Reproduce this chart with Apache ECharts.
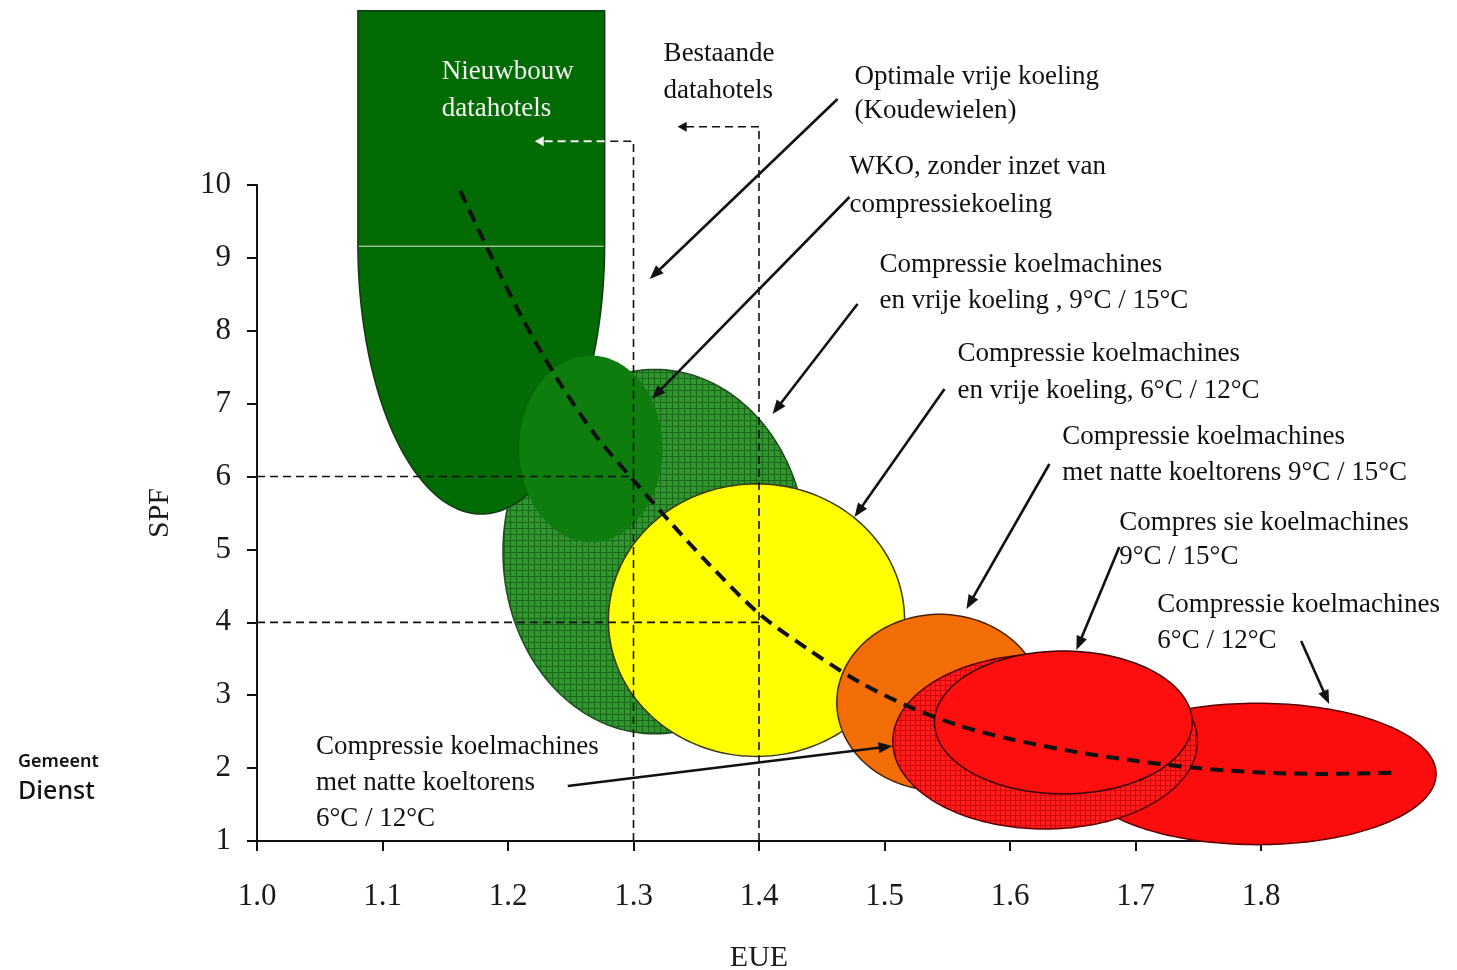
<!DOCTYPE html>
<html><head><meta charset="utf-8">
<script src="https://cdn.jsdelivr.net/npm/echarts@6/dist/echarts.min.js"></script>
<style>html,body{margin:0;padding:0;background:#fff}#c{width:1457px;height:970px}</style>
</head><body><div id="c"></div>
<script>
// ---------- DATA ----------
const xTicks = [1.0, 1.1, 1.2, 1.3, 1.4, 1.5, 1.6, 1.7, 1.8];
const yTicks = [1, 2, 3, 4, 5, 6, 7, 8, 9, 10];

// dashed trend curve (EUE, SPF)
const curveEUE = [1.162, 1.18, 1.21, 1.24, 1.27, 1.30, 1.33, 1.36, 1.40, 1.44, 1.48, 1.52, 1.56, 1.60, 1.65, 1.70, 1.75, 1.80, 1.85, 1.908];
const curveSPF = [9.92, 9.26, 8.22, 7.32, 6.56, 5.95, 5.36, 4.80, 4.12, 3.62, 3.18, 2.84, 2.58, 2.40, 2.23, 2.10, 2.00, 1.94, 1.92, 1.94];

// elliptical regions (centre EUE / SPF, half-width EUE / half-height SPF)
const regionNames = ['CK + vrije koeling 9/15', 'WKO', 'CK + vrije koeling 6/12', 'CK natte koeltorens 9/15', 'CK 6/12', 'CK natte koeltorens 6/12', 'CK 9/15'];
const regionEUE = [1.317, 1.266, 1.398, 1.544, 1.797, 1.628, 1.6425];
const regionSPF = [4.97, 6.38, 4.03, 2.90, 1.92, 2.365, 2.626];
const regionHalfEUE = [0.121, 0.057, 0.118, 0.082, 0.1425, 0.1214, 0.1027];
const regionHalfSPF = [2.50, 1.28, 1.87, 1.21, 0.97, 1.20, 0.98];

// "Nieuwbouw datahotels" region: EUE left/right, SPF top / start of rounding / bottom
const newBuildEUE = [1.0804, 1.277];
const newBuildSPF = [12.39, 9.19, 5.486];

// dashed guide lines
const guideEUE = [1.3, 1.4];
const guideSPF = [6, 4];
const guideTopSPF = [10.60, 10.80];
const guideTipEUE = [1.2213, 1.3352];

// annotation arrows
const arrowFromEUE = [1.4626, 1.4721, 1.4785, 1.5478, 1.6314, 1.6871, 1.832, 1.2476];
const arrowFromSPF = [11.18, 9.835, 8.367, 7.201, 6.172, 5.033, 3.744, 1.755];
const arrowToEUE = [1.3129, 1.3145, 1.4108, 1.4761, 1.5653, 1.6529, 1.8543, 1.5064];
const arrowToSPF = [8.71, 7.064, 6.858, 5.445, 4.183, 3.62, 2.88, 2.303];

// annotation texts
const noteText = [
  'Nieuwbouw\ndatahotels',
  'Bestaande\ndatahotels',
  'Optimale vrije koeling\n(Koudewielen)',
  'WKO, zonder inzet van\ncompressiekoeling',
  'Compressie koelmachines\nen vrije koeling , 9°C / 15°C',
  'Compressie koelmachines\nen vrije koeling, 6°C / 12°C',
  'Compressie koelmachines\nmet natte koeltorens 9°C / 15°C',
  'Compres sie koelmachines\n9°C / 15°C',
  'Compressie koelmachines\n6°C / 12°C',
  'Compressie koelmachines\nmet natte koeltorens\n6°C / 12°C'
];
const noteEUE = [1.1473, 1.324, 1.4761, 1.4721, 1.496, 1.5581, 1.6417, 1.6871, 1.7174, 1.047];
const noteSPF = [11.296, 11.543, 11.248, 9.986, 8.655, 7.428, 6.296, 5.13, 3.991, 1.796];

// ---------- STYLES ----------
const SERIF = '"Liberation Serif", "Times New Roman", serif';
function hatch(bg, line, step) {
  const c = document.createElement('canvas');
  c.width = step; c.height = step;
  const g = c.getContext('2d');
  g.fillStyle = bg; g.fillRect(0, 0, step, step);
  g.fillStyle = line; g.fillRect(0, 0, step, 1); g.fillRect(0, 0, 1, step);
  return { image: c, repeat: 'repeat' };
}
const regionLook = {
  'CK + vrije koeling 9/15': { fill: hatch('#2f962f', '#186818', 6), stroke: '#1f4a1f', lw: 1.5 },
  'WKO': { fill: '#0e7d0e', stroke: null, lw: 0 },
  'CK + vrije koeling 6/12': { fill: '#ffff00', stroke: '#3a3a1a', lw: 1.5 },
  'CK natte koeltorens 9/15': { fill: '#f36d06', stroke: '#4a2000', lw: 1.5 },
  'CK 6/12': { fill: '#fc0d0d', stroke: '#5a0000', lw: 1.5 },
  'CK natte koeltorens 6/12': { fill: hatch('#ff1c1c', '#d00808', 5), stroke: '#5a0000', lw: 1.5 },
  'CK 9/15': { fill: '#fd0f0f', stroke: '#3a0000', lw: 1.5 }
};
const noteColor = ['#f4f4f4', '#111', '#111', '#111', '#111', '#111', '#111', '#111', '#111', '#111'];
const noteLH = [37, 37, 34, 38, 36, 37, 36, 34, 36, 36];

function ellipsePoly(api, cx, cy, rx, ry, from, to, n) {
  const c = api.coord([cx, cy]);
  const e = api.coord([cx + rx, cy + ry]);
  const a = e[0] - c[0], b = c[1] - e[1];
  const pts = [];
  for (let k = 0; k <= n; k++) {
    const t = from + (to - from) * k / n;
    pts.push([c[0] + a * Math.cos(t), c[1] + b * Math.sin(t)]);
  }
  return pts;
}
function arrowEls(p0, p1, color, len, half, width, dash) {
  const dx = p1[0] - p0[0], dy = p1[1] - p0[1];
  const L = Math.hypot(dx, dy), ux = dx / L, uy = dy / L;
  const bx = p1[0] - ux * len, by = p1[1] - uy * len;
  return [
    { type: 'line', shape: { x1: p0[0], y1: p0[1], x2: bx + ux * 2, y2: by + uy * 2 },
      style: { stroke: color, lineWidth: width, lineDash: dash || null } },
    { type: 'polygon', shape: { points: [[p1[0], p1[1]], [bx - uy * half, by + ux * half], [bx + uy * half, by - ux * half]] },
      style: { fill: color } }
  ];
}

const chart = echarts.init(document.getElementById('c'));
const option = {
  animation: false,
  backgroundColor: '#fff',
  grid: { left: 257, right: 196, top: 185, bottom: 129, containLabel: false, outerBoundsMode: 'none' },
  xAxis: {
    type: 'value', min: 1.0, max: 1.8, interval: 0.1,
    name: 'EUE', nameLocation: 'middle', nameGap: 102,
    nameTextStyle: { fontFamily: SERIF, fontSize: 30, color: '#1a1a1a' },
    axisLine: { lineStyle: { color: '#111', width: 2 } },
    axisTick: { show: true, length: 10, customValues: xTicks, lineStyle: { color: '#111', width: 2 } },
    axisLabel: { customValues: xTicks, formatter: v => v.toFixed(1), margin: 40, fontFamily: SERIF, fontSize: 31, color: '#1a1a1a' },
    splitLine: { show: false }
  },
  yAxis: {
    type: 'value', min: 1, max: 10, interval: 1,
    name: 'SPF', nameLocation: 'middle', nameGap: 82, nameRotate: 90,
    nameTextStyle: { fontFamily: SERIF, fontSize: 30, color: '#1a1a1a' },
    axisLine: { lineStyle: { color: '#111', width: 2 } },
    axisTick: { show: true, length: 10, customValues: yTicks, lineStyle: { color: '#111', width: 2 } },
    axisLabel: { customValues: yTicks, margin: 26, fontFamily: SERIF, fontSize: 31, color: '#1a1a1a', padding: [4, 0, 0, 0] },
    splitLine: { show: false }
  },
  graphic: [
    { type: 'text', left: 18, top: 753, z: 100, style: { text: 'Gemeente', fontFamily: '"Noto Sans", sans-serif', fontWeight: 600, fontSize: 18, fill: '#111' } },
    { type: 'text', left: 18, top: 779, z: 100, style: { text: 'Dienst', fontFamily: '"Noto Sans", sans-serif', fontWeight: 500, fontSize: 25, fill: '#111' } },
    { type: 'rect', left: 99, top: 745, z: 101, shape: { width: 40, height: 75 }, style: { fill: '#fff' } }
  ],
  series: [
    {
      type: 'custom', name: 'regions', coordinateSystem: 'cartesian2d', clip: false, z: 2, silent: true,
      data: regionNames.map((n, i) => [regionEUE[i], regionSPF[i], regionHalfEUE[i], regionHalfSPF[i]]),
      encode: { x: 0, y: 1 },
      renderItem: (params, api) => {
        const i = params.dataIndex;
        const look = regionLook[regionNames[i]];
        return {
          type: 'polygon', z2: i * 10,
          shape: { points: ellipsePoly(api, regionEUE[i], regionSPF[i], regionHalfEUE[i], regionHalfSPF[i], 0, Math.PI * 2, 180) },
          style: { fill: look.fill, stroke: look.stroke, lineWidth: look.lw }
        };
      }
    },
    {
      type: 'custom', name: 'Nieuwbouw', coordinateSystem: 'cartesian2d', clip: false, z: 2, silent: true,
      data: [[(newBuildEUE[0] + newBuildEUE[1]) / 2, newBuildSPF[1]]],
      encode: { x: 0, y: 1 },
      renderItem: (params, api) => {
        const cx = (newBuildEUE[0] + newBuildEUE[1]) / 2, rx = (newBuildEUE[1] - newBuildEUE[0]) / 2;
        const ry = newBuildSPF[1] - newBuildSPF[2];
        const tl = api.coord([newBuildEUE[0], newBuildSPF[0]]);
        const tr = api.coord([newBuildEUE[1], newBuildSPF[0]]);
        const arc = ellipsePoly(api, cx, newBuildSPF[1], rx, ry, 0, Math.PI, 120);
        const seamL = api.coord([newBuildEUE[0], newBuildSPF[1] - 0.03]);
        const seamR = api.coord([newBuildEUE[1], newBuildSPF[1] - 0.03]);
        return {
          type: 'group', children: [
            { type: 'polygon', z2: 5, shape: { points: [tl, tr].concat(arc) }, style: { fill: '#036b03', stroke: '#143814', lineWidth: 1.5 } },
            { type: 'line', z2: 6, shape: { x1: seamL[0] + 1, y1: seamL[1], x2: seamR[0] - 1, y2: seamR[1] }, style: { stroke: 'rgba(255,255,255,0.85)', lineWidth: 1 } }
          ]
        };
      }
    },
    {
      type: 'custom', name: 'trend', coordinateSystem: 'cartesian2d', clip: false, z: 5, silent: true,
      data: curveEUE.map((x, i) => [x, curveSPF[i]]),
      encode: { x: 0, y: 1 },
      renderItem: (params, api) => {
        if (params.dataIndex !== 0) return null;
        const pts = curveEUE.map((x, i) => api.coord([x, curveSPF[i]]));
        return {
          type: 'polyline', shape: { points: pts, smooth: 0.3 },
          style: { stroke: '#111', lineWidth: 4, lineDash: [13, 8], fill: null }
        };
      }
    },
    {
      type: 'custom', name: 'guides', coordinateSystem: 'cartesian2d', clip: false, z: 6, silent: true,
      data: guideEUE.map((x, i) => [x, guideSPF[i]]),
      encode: { x: 0, y: 1 },
      renderItem: (params, api) => {
        const i = params.dataIndex;
        const dash = [8, 5];
        const st = { stroke: '#111', lineWidth: 1.6, lineDash: dash, fill: null };
        const h0 = api.coord([1.0, guideSPF[i]]), h1 = api.coord([guideEUE[i], guideSPF[i]]);
        const v0 = api.coord([guideEUE[i], 1]), v1 = api.coord([guideEUE[i], guideTopSPF[i]]);
        const kids = [
          { type: 'polyline', shape: { points: [h0, h1] }, style: st },
        ];
        if (i === 0) {
          const edge = api.coord([newBuildEUE[1], guideTopSPF[i]]);
          kids.push({ type: 'polyline', shape: { points: [v0, v1, edge] }, style: st });
          const tip = api.coord([guideTipEUE[i], guideTopSPF[i]]);
          kids.push(...arrowEls(edge, tip, '#f2f2f2', 9, 5, 2, [8, 5]));
        } else {
          const tip = api.coord([guideTipEUE[i], guideTopSPF[i]]);
          kids.push({ type: 'polyline', shape: { points: [v0, v1] }, style: st });
          kids.push(...arrowEls(v1, tip, '#111', 9, 5, 1.6, dash));
        }
        return { type: 'group', children: kids };
      }
    },
    {
      type: 'custom', name: 'arrows', coordinateSystem: 'cartesian2d', clip: false, z: 7, silent: true,
      data: arrowToEUE.map((x, i) => [x, arrowToSPF[i]]),
      encode: { x: 0, y: 1 },
      renderItem: (params, api) => {
        const i = params.dataIndex;
        const p0 = api.coord([arrowFromEUE[i], arrowFromSPF[i]]);
        const p1 = api.coord([arrowToEUE[i], arrowToSPF[i]]);
        return { type: 'group', children: arrowEls(p0, p1, '#111', 14, 5.5, 2.6) };
      }
    },
    {
      type: 'custom', name: 'notes', coordinateSystem: 'cartesian2d', clip: false, z: 8, silent: true,
      data: noteEUE.map((x, i) => [x, noteSPF[i]]),
      encode: { x: 0, y: 1 },
      renderItem: (params, api) => {
        const i = params.dataIndex;
        const p = api.coord([noteEUE[i], noteSPF[i]]);
        return {
          type: 'text', x: p[0], y: p[1],
          style: {
            text: noteText[i], fill: noteColor[i], fontFamily: SERIF, fontSize: 27,
            align: 'left', verticalAlign: 'middle', lineHeight: noteLH[i]
          }
        };
      }
    }
  ]
};
chart.setOption(option);
</script>
</body></html>
